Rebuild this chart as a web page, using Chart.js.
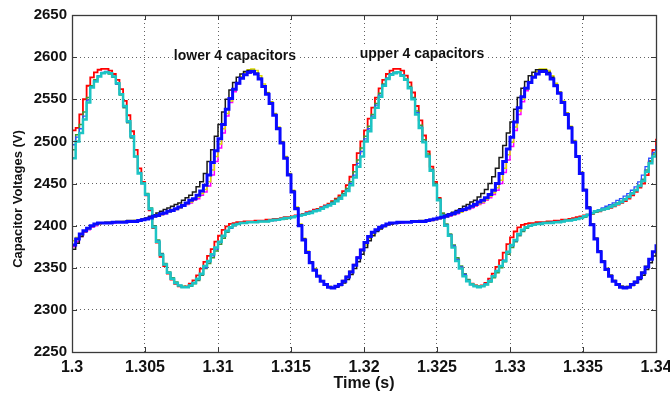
<!DOCTYPE html>
<html><head><meta charset="utf-8">
<script src="https://cdn.jsdelivr.net/npm/chart.js@4/dist/chart.umd.min.js"></script>
<style>html,body{margin:0;padding:0;background:#fff}#wrap{width:670px;height:398px}</style>
</head><body><div id="wrap"><canvas id="c" width="670" height="398"></canvas></div>
<script>
// ---------- data ----------
const timeS = [
1.30000,1.30025,1.30050,1.30075,1.30100,1.30125,1.30150,1.30175,1.30200,1.30225,
1.30250,1.30275,1.30300,1.30325,1.30350,1.30375,1.30400,1.30425,1.30450,1.30475,
1.30500,1.30525,1.30550,1.30575,1.30600,1.30625,1.30650,1.30675,1.30700,1.30725,
1.30750,1.30775,1.30800,1.30825,1.30850,1.30875,1.30900,1.30925,1.30950,1.30975,
1.31000,1.31025,1.31050,1.31075,1.31100,1.31125,1.31150,1.31175,1.31200,1.31225,
1.31250,1.31275,1.31300,1.31325,1.31350,1.31375,1.31400,1.31425,1.31450,1.31475,
1.31500,1.31525,1.31550,1.31575,1.31600,1.31625,1.31650,1.31675,1.31700,1.31725,
1.31750,1.31775,1.31800,1.31825,1.31850,1.31875,1.31900,1.31925,1.31950,1.31975,
1.32000,1.32025,1.32050,1.32075,1.32100,1.32125,1.32150,1.32175,1.32200,1.32225,
1.32250,1.32275,1.32300,1.32325,1.32350,1.32375,1.32400,1.32425,1.32450,1.32475,
1.32500,1.32525,1.32550,1.32575,1.32600,1.32625,1.32650,1.32675,1.32700,1.32725,
1.32750,1.32775,1.32800,1.32825,1.32850,1.32875,1.32900,1.32925,1.32950,1.32975,
1.33000,1.33025,1.33050,1.33075,1.33100,1.33125,1.33150,1.33175,1.33200,1.33225,
1.33250,1.33275,1.33300,1.33325,1.33350,1.33375,1.33400,1.33425,1.33450,1.33475,
1.33500,1.33525,1.33550,1.33575,1.33600,1.33625,1.33650,1.33675,1.33700,1.33725,
1.33750,1.33775,1.33800,1.33825,1.33850,1.33875,1.33900,1.33925,1.33950,1.33975,
1.34000];

// capacitors peaking at 1.302 / 1.322
const capRed = [
2513,2516,2532,2550,2566,2576,2582,2585,2586,2586,2584,2580,2573,2562,2548,2531,2512,2490,2468,2452,
2436,2418,2397,2380,2363,2352,2343,2336,2331,2328,2327,2328,2331,2335,2341,2349,2357,2364,2372,2381,
2388,2395,2399,2402,2403,2404,2404,2405,2405,2405,2406,2406,2406,2407,2407,2408,2408,2409,2410,2410,
2411,2412,2413,2414,2416,2417,2419,2420,2422,2424,2426,2429,2432,2436,2441,2448,2458,2472,2486,2500,
2513,2527,2540,2552,2563,2573,2580,2584,2586,2586,2584,2578,2570,2558,2542,2525,2507,2488,2470,2452,
2433,2414,2401,2389,2375,2360,2350,2341,2335,2331,2329,2328,2329,2332,2337,2343,2351,2359,2368,2378,
2386,2393,2398,2401,2402,2403,2403,2404,2404,2404,2405,2405,2406,2406,2407,2407,2408,2409,2410,2411,
2412,2413,2414,2416,2417,2419,2420,2421,2423,2425,2427,2429,2432,2436,2440,2445,2450,2460,2476,2490,
2503];
const capGreen = [
2490,2508,2520,2535,2552,2566,2573,2578,2581,2582,2580,2576,2568,2555,2540,2522,2504,2482,2463,2451,
2438,2421,2400,2383,2367,2355,2345,2338,2333,2329,2328,2327,2328,2331,2335,2341,2349,2355,2362,2370,
2378,2385,2392,2397,2400,2402,2403,2403,2404,2404,2404,2405,2405,2405,2406,2406,2407,2408,2408,2409,
2410,2411,2412,2413,2414,2416,2417,2419,2421,2423,2425,2428,2431,2434,2438,2444,2452,2464,2478,2492,
2506,2518,2532,2545,2557,2568,2575,2580,2582,2582,2579,2574,2565,2552,2536,2519,2502,2485,2467,2450,
2432,2415,2402,2390,2377,2362,2352,2343,2336,2331,2329,2328,2328,2330,2333,2338,2344,2350,2357,2366,
2374,2381,2388,2393,2397,2400,2401,2402,2403,2403,2404,2404,2404,2405,2405,2406,2407,2407,2408,2409,
2410,2412,2414,2416,2418,2419,2421,2423,2425,2427,2429,2432,2435,2439,2443,2448,2455,2466,2477,2485,
2494];
const capBlueThin = [
2496,2505,2515,2530,2549,2565,2572,2578,2582,2583,2581,2577,2568,2556,2541,2523,2505,2482,2463,2450,
2436,2419,2399,2382,2366,2354,2344,2337,2332,2329,2327,2327,2329,2332,2336,2342,2350,2357,2364,2372,
2380,2387,2393,2397,2400,2402,2403,2403,2404,2404,2404,2405,2405,2405,2406,2406,2407,2408,2409,2409,
2410,2411,2412,2413,2415,2416,2418,2419,2421,2423,2425,2427,2430,2433,2437,2442,2450,2460,2474,2488,
2503,2515,2530,2543,2555,2567,2575,2580,2582,2582,2579,2573,2564,2551,2534,2517,2500,2483,2466,2449,
2431,2413,2401,2389,2376,2360,2351,2342,2335,2330,2328,2327,2328,2331,2335,2340,2346,2352,2359,2368,
2376,2382,2389,2394,2398,2400,2401,2402,2403,2403,2403,2404,2404,2405,2405,2406,2406,2407,2408,2409,
2411,2413,2415,2417,2419,2421,2423,2425,2427,2430,2432,2435,2438,2442,2446,2452,2460,2470,2480,2487,
2495];
const capCyan = [
2480,2500,2510,2526,2546,2564,2571,2577,2581,2582,2581,2577,2569,2556,2542,2524,2506,2482,2462,2450,
2437,2420,2398,2381,2365,2354,2344,2337,2332,2329,2327,2327,2329,2332,2337,2343,2352,2358,2366,2374,
2381,2388,2394,2398,2401,2402,2403,2403,2404,2404,2404,2405,2405,2405,2406,2407,2407,2408,2409,2409,
2410,2411,2412,2413,2414,2415,2417,2418,2420,2422,2424,2426,2429,2432,2436,2441,2448,2457,2470,2482,
2500,2512,2528,2540,2553,2566,2574,2579,2581,2582,2578,2573,2563,2550,2532,2516,2499,2482,2465,2448,
2430,2412,2400,2388,2374,2358,2349,2340,2334,2330,2328,2327,2328,2330,2334,2340,2346,2352,2358,2369,
2377,2383,2390,2395,2398,2400,2401,2402,2402,2403,2403,2403,2404,2404,2405,2406,2406,2407,2408,2409,
2411,2413,2415,2417,2418,2419,2420,2422,2424,2426,2428,2431,2434,2438,2442,2447,2453,2464,2474,2482,
2488];

// capacitors peaking at 1.312 / 1.332
const capBlack = [
2372,2379,2387,2393,2397,2400,2402,2403,2403,2404,2404,2404,2405,2405,2405,2406,2406,2406,2407,2408,
2409,2411,2413,2415,2417,2419,2421,2423,2425,2427,2430,2433,2436,2440,2446,2452,2462,2476,2490,2506,
2520,2535,2550,2561,2570,2576,2580,2583,2584,2584,2581,2575,2566,2557,2546,2532,2516,2499,2481,2461,
2441,2421,2401,2384,2369,2357,2348,2340,2334,2330,2327,2326,2327,2329,2332,2336,2342,2349,2357,2366,
2374,2382,2388,2393,2396,2399,2401,2402,2403,2403,2404,2404,2404,2405,2405,2406,2406,2407,2407,2408,
2409,2411,2413,2414,2416,2418,2420,2423,2425,2428,2430,2434,2438,2443,2450,2458,2468,2481,2495,2510,
2523,2538,2552,2563,2571,2578,2582,2585,2585,2585,2582,2576,2567,2558,2547,2533,2517,2500,2483,2463,
2443,2422,2402,2385,2370,2358,2349,2341,2335,2331,2328,2327,2327,2329,2332,2336,2341,2348,2356,2364,
2373];
const capYellow = [
2382,2386,2389,2393,2396,2399,2401,2402,2403,2403,2403,2404,2404,2404,2405,2405,2405,2406,2406,2407,
2408,2409,2410,2412,2413,2415,2416,2418,2419,2421,2423,2426,2428,2431,2434,2438,2443,2452,2466,2482,
2497,2515,2533,2548,2561,2570,2577,2582,2585,2586,2584,2578,2568,2558,2547,2533,2517,2500,2482,2462,
2442,2422,2402,2385,2370,2357,2349,2341,2335,2331,2328,2327,2328,2331,2335,2340,2346,2354,2362,2370,
2377,2385,2390,2394,2397,2399,2401,2402,2403,2403,2404,2404,2404,2404,2405,2405,2405,2406,2406,2407,
2408,2409,2410,2412,2413,2415,2416,2418,2420,2422,2424,2426,2428,2431,2435,2439,2445,2454,2468,2484,
2499,2517,2536,2550,2562,2571,2578,2583,2586,2586,2584,2578,2569,2559,2548,2534,2518,2501,2483,2463,
2443,2422,2402,2385,2370,2358,2349,2341,2335,2330,2328,2327,2328,2330,2334,2339,2345,2352,2360,2368,
2376];
const capMagenta = [
2375,2381,2387,2392,2395,2398,2400,2402,2403,2403,2403,2403,2404,2404,2404,2405,2405,2405,2406,2407,
2408,2409,2410,2411,2413,2414,2416,2417,2419,2421,2423,2425,2427,2430,2432,2436,2440,2447,2460,2476,
2492,2510,2530,2546,2559,2568,2575,2579,2581,2582,2580,2574,2565,2556,2545,2531,2515,2498,2480,2460,
2440,2420,2400,2383,2368,2356,2347,2340,2334,2330,2327,2326,2328,2331,2335,2340,2346,2354,2363,2372,
2379,2386,2391,2395,2398,2400,2401,2402,2403,2403,2403,2404,2404,2404,2405,2405,2405,2406,2406,2407,
2408,2409,2410,2411,2413,2414,2416,2418,2419,2421,2423,2425,2427,2430,2433,2437,2442,2450,2463,2478,
2494,2513,2532,2547,2560,2569,2576,2580,2582,2582,2580,2574,2566,2557,2546,2532,2516,2499,2482,2462,
2442,2421,2401,2384,2369,2357,2348,2340,2334,2330,2327,2326,2327,2330,2333,2338,2344,2351,2360,2369,
2377];
const capBlue = [
2377,2384,2390,2394,2397,2400,2402,2403,2403,2403,2403,2404,2404,2404,2404,2405,2405,2405,2406,2407,
2408,2409,2411,2412,2414,2415,2417,2418,2420,2422,2424,2427,2430,2432,2436,2441,2448,2460,2475,2489,
2503,2520,2538,2551,2562,2569,2575,2579,2582,2583,2580,2574,2565,2556,2545,2531,2515,2498,2480,2460,
2440,2420,2400,2383,2368,2356,2347,2340,2334,2330,2327,2326,2328,2330,2334,2339,2345,2353,2362,2371,
2380,2387,2392,2395,2398,2400,2402,2403,2403,2404,2404,2404,2404,2405,2405,2405,2405,2406,2407,2408,
2409,2410,2411,2413,2414,2416,2418,2419,2421,2423,2425,2428,2430,2433,2437,2442,2450,2462,2476,2491,
2505,2523,2540,2553,2563,2570,2576,2580,2583,2583,2580,2574,2566,2557,2546,2532,2516,2499,2482,2462,
2442,2421,2401,2384,2369,2357,2348,2340,2334,2330,2327,2326,2327,2330,2333,2338,2344,2351,2360,2369,
2378];

const xTickValues = [1.3,1.305,1.31,1.315,1.32,1.325,1.33,1.335,1.34];
const xTickLabels = ['1.3','1.305','1.31','1.315','1.32','1.325','1.33','1.335','1.34'];
const yTickValues = [2250,2300,2350,2400,2450,2500,2550,2600,2650];
const yTickLabels = ['2250','2300','2350','2400','2450','2500','2550','2600','2650'];
const noteLabels = ['lower 4 capacitors','upper 4 capacitors'];
const noteX = [1.31116,1.32397];
const noteY = [2601,2603];
const xTitle = 'Time (s)';
const yTitle = 'Capacitor Voltages (V)';

// ---------- chart ----------
const FONT = "'Liberation Sans', Arial, sans-serif";
const pts = vals => vals.map((v,i)=>({x:timeS[i], y:v}));
function ds(vals, color, width){
  return {data:pts(vals), borderColor:color, borderWidth:width, stepped:'before',
          pointRadius:0, fill:false, tension:0};
}
// first dataset is drawn on top
const datasets = [
  ds(capBlue,'#0a0aff',3),
  ds(capCyan,'#1cc4c4',2.5),
  ds(capBlack,'#1a1a1a',1.5),
  ds(capBlueThin,'#2f4dff',1.3),
  ds(capYellow,'#dcdc00',1.5),
  ds(capMagenta,'#ff00ff',1.5),
  ds(capGreen,'#3f9a34',1.5),
  ds(capRed,'#ff0000',1.8),
];

const framePlugin = {
  id:'frame',
  afterDraw(chart){
    const {ctx, chartArea:a, scales:{x,y}} = chart;
    ctx.save();
    ctx.strokeStyle = '#3a3a3a'; ctx.lineWidth = 1;
    ctx.beginPath();
    x.ticks.forEach(t=>{
      const p = Math.round(x.getPixelForValue(t.value))+0.5;
      ctx.moveTo(p,a.bottom); ctx.lineTo(p,a.bottom-5);
      ctx.moveTo(p,a.top); ctx.lineTo(p,a.top+5);
    });
    y.ticks.forEach(t=>{
      const p = Math.round(y.getPixelForValue(t.value))+0.5;
      ctx.moveTo(a.left,p); ctx.lineTo(a.left+5,p);
      ctx.moveTo(a.right,p); ctx.lineTo(a.right-5,p);
    });
    ctx.stroke();
    ctx.lineWidth = 1.3;
    ctx.strokeRect(Math.round(a.left)+0.5, Math.round(a.top)+0.5,
                   Math.round(a.right-a.left), Math.round(a.bottom-a.top));
    // y-axis title
    ctx.fillStyle = '#111';
    ctx.font = "bold 13px "+FONT;
    ctx.textAlign = 'center'; ctx.textBaseline = 'middle';
    ctx.translate(18, 199);
    ctx.rotate(-Math.PI/2);
    ctx.fillText(yTitle, 0, 0);
    ctx.restore();
  },
  afterDatasetsDraw(chart){
    const {ctx, scales:{x,y}} = chart;
    ctx.save();
    ctx.font = "bold 14px "+FONT;
    ctx.textAlign='center'; ctx.textBaseline='middle';
    noteLabels.forEach((s,i)=>{
      const px = x.getPixelForValue(noteX[i]), py = y.getPixelForValue(noteY[i]);
      const w = ctx.measureText(s).width;
      ctx.fillStyle='#fff'; ctx.fillRect(px-w/2-1, py-8, w+2, 16);
      ctx.fillStyle='#111'; ctx.fillText(s, px, py);
    });
    ctx.restore();
  }
};

new Chart(document.getElementById('c'), {
  type:'line',
  data:{datasets},
  options:{
    responsive:false, animation:false, devicePixelRatio:1,
    layout:{padding:{left:0,right:14,top:15,bottom:0}},
    plugins:{legend:{display:false}, tooltip:{enabled:false}},
    scales:{
      x:{type:'linear', min:1.3, max:1.34,
        afterBuildTicks: s=>{ s.ticks = xTickValues.map(v=>({value:v})); },
        afterFit: s=>{ s.height = 46; s.paddingLeft = 0; s.paddingRight = 0; },
        ticks:{autoSkip:false, maxRotation:0, padding:6, color:'#111',
          font:{family:FONT, size:16, weight:'bold'},
          callback:(v,i)=>xTickLabels[i]},
        grid:{color:'rgba(70,70,70,0.85)', lineWidth:1, drawTicks:false},
        border:{display:false, dash:[1,3]},
        title:{display:true, text:xTitle, color:'#111', padding:{top:0,bottom:5},
          font:{family:FONT, size:16, weight:'bold'}}
      },
      y:{type:'linear', min:2250, max:2650,
        afterBuildTicks: s=>{ s.ticks = yTickValues.map(v=>({value:v})); },
        afterFit: s=>{ s.width = 72; s.paddingTop = 0; s.paddingBottom = 0; },
        ticks:{autoSkip:false, padding:5, color:'#111',
          font:{family:FONT, size:15, weight:'bold'},
          callback:(v,i)=>yTickLabels[i]},
        grid:{color:'rgba(70,70,70,0.85)', lineWidth:1, drawTicks:false},
        border:{display:false, dash:[1,3]},
        title:{display:false}
      }
    }
  },
  plugins:[framePlugin]
});
</script>
</body></html>
